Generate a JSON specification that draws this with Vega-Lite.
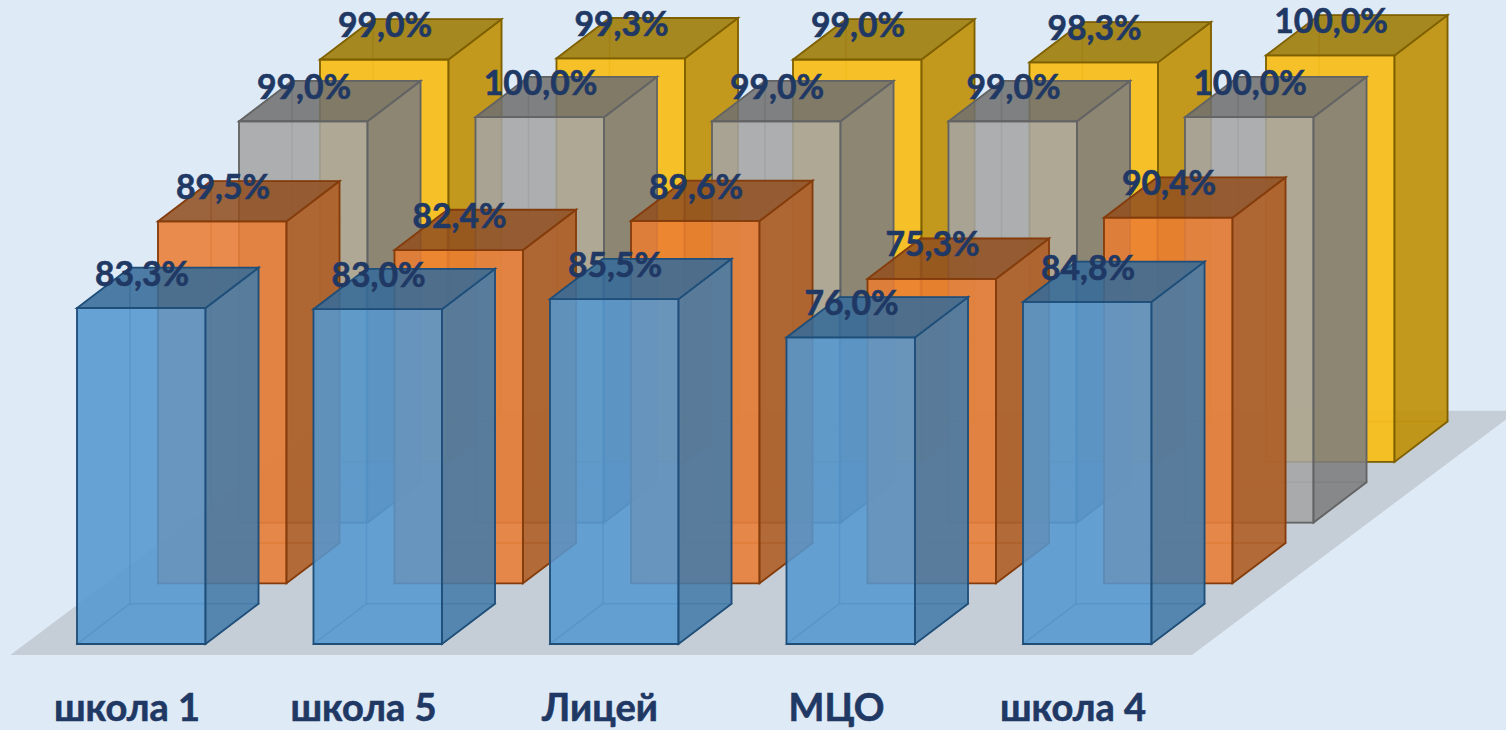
{"$schema":"https://vega.github.io/schema/vega-lite/v6.json","autosize":{"type":"none"},"padding":0,"width":1506,"height":730,"background":"#deeaf6","config":{"view":{"stroke":null},"axis":{"disable":true},"legend":{"disable":true}},
"data":{"values":[
{"school":"школа 1","series":"Ряд 1","value":83.3},{"school":"школа 5","series":"Ряд 1","value":83.0},{"school":"Лицей","series":"Ряд 1","value":85.5},{"school":"МЦО","series":"Ряд 1","value":76.0},{"school":"школа 4","series":"Ряд 1","value":84.8},
{"school":"школа 1","series":"Ряд 2","value":89.5},{"school":"школа 5","series":"Ряд 2","value":82.4},{"school":"Лицей","series":"Ряд 2","value":89.6},{"school":"МЦО","series":"Ряд 2","value":75.3},{"school":"школа 4","series":"Ряд 2","value":90.4},
{"school":"школа 1","series":"Ряд 3","value":99.0},{"school":"школа 5","series":"Ряд 3","value":100.0},{"school":"Лицей","series":"Ряд 3","value":99.0},{"school":"МЦО","series":"Ряд 3","value":99.0},{"school":"школа 4","series":"Ряд 3","value":100.0},
{"school":"школа 1","series":"Ряд 4","value":99.0},{"school":"школа 5","series":"Ряд 4","value":99.3},{"school":"Лицей","series":"Ряд 4","value":99.0},{"school":"МЦО","series":"Ряд 4","value":98.3},{"school":"школа 4","series":"Ряд 4","value":100.0}
]},
"transform":[
{"calculate":"indexof(['школа 1','школа 5','Лицей','МЦО','школа 4'],datum.school)","as":"i"},
{"calculate":"indexof(['Ряд 1','Ряд 2','Ряд 3','Ряд 4'],datum.series)","as":"d"},
{"calculate":"[0,1]","as":"t"},{"flatten":["t"]},
{"calculate":"datum.i+0.3425*datum.d+0.2241*datum.t","as":"xs"},
{"calculate":"datum.xs+0.5434","as":"xe"},
{"calculate":"datum.d*14.99+9.95*datum.t","as":"ybs"},
{"calculate":"datum.ybs+datum.value*(0.996+0.0025*datum.d)","as":"yts"},
{"calculate":"datum.xs+0.2748","as":"xlabel"},
{"calculate":"datum.yts+8.0","as":"ylabel"},
{"calculate":"datum.i+0.2114","as":"xcat"},
{"calculate":"-16.3","as":"ycat"},
{"calculate":"replace(format(datum.value,'.1f'),'.',',')+'%'","as":"label"},
{"calculate":"-0.18+4.02*datum.t","as":"fd"},
{"calculate":"-0.22+0.3425*datum.fd","as":"fx1"},
{"calculate":"4.776+0.3425*datum.fd","as":"fx2"},
{"calculate":"datum.fd*14.99","as":"fy"}
],
"layer":[
{"transform":[{"filter":"datum.d==0&&datum.i==0"}],"mark":{"type":"area","orient":"horizontal","fill":"#c5ced6","clip":true},"encoding":{"y":{"field":"fy","type":"quantitative","scale":{"domain":[-21.235,159.012],"nice":false,"zero":false}},"x":{"field":"fx1","type":"quantitative","scale":{"domain":[-0.32558,6.04228],"nice":false,"zero":false}},"x2":{"field":"fx2"}}},

{"transform":[{"filter":"datum.d==3"}],"layer":[
{"mark":{"type":"area","orient":"horizontal","fill":"#f8bc14","fillOpacity":0.12,"stroke":"#7f6000","strokeOpacity":0.3,"strokeWidth":1.5},"encoding":{"y":{"field":"ybs","type":"quantitative","scale":{"domain":[-21.235,159.012],"nice":false,"zero":false}},"x":{"field":"xs","type":"quantitative","scale":{"domain":[-0.32558,6.04228],"nice":false,"zero":false}},"x2":{"field":"xe"},"detail":{"field":"school"}}},
{"mark":{"type":"area","orient":"vertical","fill":"#f8bc14","fillOpacity":0.12,"stroke":"#7f6000","strokeOpacity":0.3,"strokeWidth":1.5},"encoding":{"x":{"field":"xs","type":"quantitative"},"y":{"field":"yts","type":"quantitative"},"y2":{"field":"ybs"},"detail":{"field":"school"}}},
{"transform":[{"filter":"datum.t==1"}],"mark":{"type":"rect","fill":"#f8bc14","fillOpacity":0.12,"stroke":"#7f6000","strokeOpacity":0.3,"strokeWidth":1.5},"encoding":{"x":{"field":"xs","type":"quantitative"},"x2":{"field":"xe"},"y":{"field":"yts","type":"quantitative"},"y2":{"field":"ybs"}}},
{"transform":[{"filter":"datum.t==0"}],"mark":{"type":"rect","fill":"#f8bc14","fillOpacity":0.9,"stroke":"#7f6000","strokeWidth":1.8},"encoding":{"x":{"field":"xs","type":"quantitative"},"x2":{"field":"xe"},"y":{"field":"yts","type":"quantitative"},"y2":{"field":"ybs"}}},
{"mark":{"type":"area","orient":"vertical","fill":"#bf9008","fillOpacity":0.9,"stroke":"#7f6000","strokeWidth":1.8},"encoding":{"x":{"field":"xe","type":"quantitative"},"y":{"field":"yts","type":"quantitative"},"y2":{"field":"ybs"},"detail":{"field":"school"}}},
{"mark":{"type":"area","orient":"horizontal","fill":"#a07d0c","fillOpacity":0.9,"stroke":"#7f6000","strokeWidth":1.8},"encoding":{"y":{"field":"yts","type":"quantitative"},"x":{"field":"xs","type":"quantitative"},"x2":{"field":"xe"},"detail":{"field":"school"}}}
]},

{"transform":[{"filter":"datum.d==2"}],"layer":[
{"mark":{"type":"area","orient":"horizontal","fill":"#a5a5a5","fillOpacity":0.12,"stroke":"#636363","strokeOpacity":0.3,"strokeWidth":1.5},"encoding":{"y":{"field":"ybs","type":"quantitative"},"x":{"field":"xs","type":"quantitative"},"x2":{"field":"xe"},"detail":{"field":"school"}}},
{"mark":{"type":"area","orient":"vertical","fill":"#a5a5a5","fillOpacity":0.12,"stroke":"#636363","strokeOpacity":0.3,"strokeWidth":1.5},"encoding":{"x":{"field":"xs","type":"quantitative"},"y":{"field":"yts","type":"quantitative"},"y2":{"field":"ybs"},"detail":{"field":"school"}}},
{"transform":[{"filter":"datum.t==1"}],"mark":{"type":"rect","fill":"#a5a5a5","fillOpacity":0.12,"stroke":"#636363","strokeOpacity":0.3,"strokeWidth":1.5},"encoding":{"x":{"field":"xs","type":"quantitative"},"x2":{"field":"xe"},"y":{"field":"yts","type":"quantitative"},"y2":{"field":"ybs"}}},
{"transform":[{"filter":"datum.t==0"}],"mark":{"type":"rect","fill":"#a5a5a5","fillOpacity":0.85,"stroke":"#636363","strokeWidth":1.8},"encoding":{"x":{"field":"xs","type":"quantitative"},"x2":{"field":"xe"},"y":{"field":"yts","type":"quantitative"},"y2":{"field":"ybs"}}},
{"mark":{"type":"area","orient":"vertical","fill":"#7b7c7e","fillOpacity":0.85,"stroke":"#636363","strokeWidth":1.8},"encoding":{"x":{"field":"xe","type":"quantitative"},"y":{"field":"yts","type":"quantitative"},"y2":{"field":"ybs"},"detail":{"field":"school"}}},
{"mark":{"type":"area","orient":"horizontal","fill":"#6e6e6e","fillOpacity":0.85,"stroke":"#636363","strokeWidth":1.8},"encoding":{"y":{"field":"yts","type":"quantitative"},"x":{"field":"xs","type":"quantitative"},"x2":{"field":"xe"},"detail":{"field":"school"}}}
]},

{"transform":[{"filter":"datum.d==1"}],"layer":[
{"mark":{"type":"area","orient":"horizontal","fill":"#ed7d31","fillOpacity":0.12,"stroke":"#843c0c","strokeOpacity":0.3,"strokeWidth":1.5},"encoding":{"y":{"field":"ybs","type":"quantitative"},"x":{"field":"xs","type":"quantitative"},"x2":{"field":"xe"},"detail":{"field":"school"}}},
{"mark":{"type":"area","orient":"vertical","fill":"#ed7d31","fillOpacity":0.12,"stroke":"#843c0c","strokeOpacity":0.3,"strokeWidth":1.5},"encoding":{"x":{"field":"xs","type":"quantitative"},"y":{"field":"yts","type":"quantitative"},"y2":{"field":"ybs"},"detail":{"field":"school"}}},
{"transform":[{"filter":"datum.t==1"}],"mark":{"type":"rect","fill":"#ed7d31","fillOpacity":0.12,"stroke":"#843c0c","strokeOpacity":0.3,"strokeWidth":1.5},"encoding":{"x":{"field":"xs","type":"quantitative"},"x2":{"field":"xe"},"y":{"field":"yts","type":"quantitative"},"y2":{"field":"ybs"}}},
{"transform":[{"filter":"datum.t==0"}],"mark":{"type":"rect","fill":"#ea7d33","fillOpacity":0.85,"stroke":"#843c0c","strokeWidth":1.8},"encoding":{"x":{"field":"xs","type":"quantitative"},"x2":{"field":"xe"},"y":{"field":"yts","type":"quantitative"},"y2":{"field":"ybs"}}},
{"mark":{"type":"area","orient":"vertical","fill":"#ad5a20","fillOpacity":0.85,"stroke":"#843c0c","strokeWidth":1.8},"encoding":{"x":{"field":"xe","type":"quantitative"},"y":{"field":"yts","type":"quantitative"},"y2":{"field":"ybs"},"detail":{"field":"school"}}},
{"mark":{"type":"area","orient":"horizontal","fill":"#8f4f20","fillOpacity":0.85,"stroke":"#843c0c","strokeWidth":1.8},"encoding":{"y":{"field":"yts","type":"quantitative"},"x":{"field":"xs","type":"quantitative"},"x2":{"field":"xe"},"detail":{"field":"school"}}}
]},

{"transform":[{"filter":"datum.d==0"}],"layer":[
{"mark":{"type":"area","orient":"horizontal","fill":"#5598d0","fillOpacity":0.12,"stroke":"#1f4e79","strokeOpacity":0.3,"strokeWidth":1.5},"encoding":{"y":{"field":"ybs","type":"quantitative"},"x":{"field":"xs","type":"quantitative"},"x2":{"field":"xe"},"detail":{"field":"school"}}},
{"mark":{"type":"area","orient":"vertical","fill":"#5598d0","fillOpacity":0.12,"stroke":"#1f4e79","strokeOpacity":0.3,"strokeWidth":1.5},"encoding":{"x":{"field":"xs","type":"quantitative"},"y":{"field":"yts","type":"quantitative"},"y2":{"field":"ybs"},"detail":{"field":"school"}}},
{"transform":[{"filter":"datum.t==1"}],"mark":{"type":"rect","fill":"#5598d0","fillOpacity":0.12,"stroke":"#1f4e79","strokeOpacity":0.3,"strokeWidth":1.5},"encoding":{"x":{"field":"xs","type":"quantitative"},"x2":{"field":"xe"},"y":{"field":"yts","type":"quantitative"},"y2":{"field":"ybs"}}},
{"transform":[{"filter":"datum.t==0"}],"mark":{"type":"rect","fill":"#5598d0","fillOpacity":0.85,"stroke":"#1f4e79","strokeWidth":1.8},"encoding":{"x":{"field":"xs","type":"quantitative"},"x2":{"field":"xe"},"y":{"field":"yts","type":"quantitative"},"y2":{"field":"ybs"}}},
{"mark":{"type":"area","orient":"vertical","fill":"#437aa8","fillOpacity":0.85,"stroke":"#1f4e79","strokeWidth":1.8},"encoding":{"x":{"field":"xe","type":"quantitative"},"y":{"field":"yts","type":"quantitative"},"y2":{"field":"ybs"},"detail":{"field":"school"}}},
{"mark":{"type":"area","orient":"horizontal","fill":"#356a98","fillOpacity":0.85,"stroke":"#1f4e79","strokeWidth":1.8},"encoding":{"y":{"field":"yts","type":"quantitative"},"x":{"field":"xs","type":"quantitative"},"x2":{"field":"xe"},"detail":{"field":"school"}}}
]},

{"transform":[{"filter":"datum.t==0"}],"mark":{"type":"text","font":"Lato","fontWeight":"bold","fontSize":33.7,"fill":"#1f3864","stroke":"#1f3864","strokeWidth":0.6,"align":"center","baseline":"middle"},"encoding":{"x":{"field":"xlabel","type":"quantitative"},"y":{"field":"ylabel","type":"quantitative"},"text":{"field":"label"}}},
{"transform":[{"filter":"datum.t==0&&datum.d==0"}],"mark":{"type":"text","font":"Lato","fontWeight":"bold","fontSize":38,"fill":"#1f3864","stroke":"#1f3864","strokeWidth":0.6,"align":"center","baseline":"middle"},"encoding":{"x":{"field":"xcat","type":"quantitative"},"y":{"field":"ycat","type":"quantitative"},"text":{"field":"school"}}}
]}
